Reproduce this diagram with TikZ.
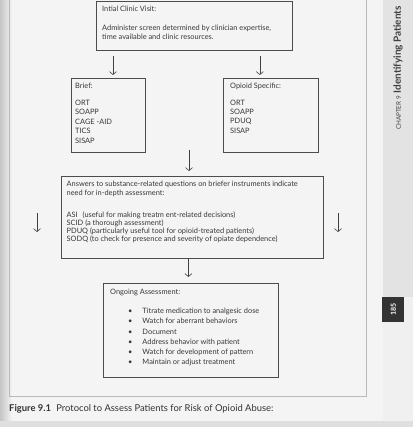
\documentclass[tikz,border=0pt]{standalone}
\usepackage{fontspec}
\setmainfont{Lato}
\usetikzlibrary{arrows.meta, positioning}

\begin{document}
\begin{tikzpicture}[x=1pt,y=-1pt,
 flowbox/.style={rectangle,draw=black!70,line width=0.8pt,anchor=north west,
   inner sep=0pt},
 boxtext/.style={inner sep=0pt,align=left,text=black!78},
 flowarrow/.style={draw=black!75,line width=0.6pt,
   -{Straight Barb[length=3pt,width=7pt]}},
 every node/.style={font=\fontsize{7.4}{9}\selectfont}]
 \useasboundingbox (0,0) rectangle (413,427);
 \clip (0,0) rectangle (413,427);
 % page and margins
 \fill[gray!9] (0,0) rectangle (413,427);
 \shade[left color=gray!45,right color=gray!9] (0,0) rectangle (12,427);
 \fill[gray!22] (383,0) rectangle (413,297);
 \fill[gray!12] (383,297) rectangle (413,421);
 \fill[gray!25] (0,421) rectangle (413,427);
 \draw[gray!55,line width=0.8pt] (9,0) -- (9,396) -- (366,396) -- (366,0);
 % boxes
 \node[flowbox,minimum width=196pt,minimum height=49pt] (visit) at (96,1) {};
 \node[boxtext,below right=5pt and 6pt of visit.north west] (visittext)
   {Intial Clinic Visit:\\[10pt]
    Administer screen determined by clinician expertise,\\
    time available and clinic resources.};
 \node[flowbox,minimum width=74pt,minimum height=74pt] (brief) at (71,78) {};
 \node[boxtext,below right=5pt and 4pt of brief.north west,
   font=\fontsize{7.4}{9.5}\selectfont] (brieftext)
   {Brief:\\[7pt]ORT\\SOAPP\\CAGE -AID\\TICS\\SISAP};
 \node[flowbox,minimum width=95pt,minimum height=74pt] (opioid) at (223,78) {};
 \node[boxtext,below right=5pt and 7pt of opioid.north west,
   font=\fontsize{7.4}{9.3}\selectfont] (opioidtext)
   {Opioid Specific:\\[7.2pt]ORT\\SOAPP\\PDUQ\\SISAP};
 \node[flowbox,minimum width=262pt,minimum height=82pt] (answers) at (61,176) {};
 \node[boxtext,below right=5pt and 5.5pt of answers.north west,
   font=\fontsize{7.4}{8}\selectfont] (answerstext)
   {Answers to substance-related questions on briefer instruments indicate\\[1pt]
    need for in-depth assessment:\\[13.5pt]
    ASI\hspace{3pt} (useful for making treatm ent-related decisions)\\
    SCID (a thorough assessment)\\
    PDUQ (particularly useful tool for opioid-treated patients)\\
    SODQ (to check for presence and severity of opiate dependence)};
 \node[flowbox,minimum width=175pt,minimum height=94pt] (assess) at (103,283) {};
 \node[boxtext,below right=6pt and 7pt of assess.north west,
   font=\fontsize{7.4}{10.2}\selectfont] (assesstext)
   {Ongoing Assessment:\\[8.8pt]
    \hspace*{18pt}\textbullet\hspace{10pt}Titrate medication to analgesic dose\\
    \hspace*{18pt}\textbullet\hspace{10pt}Watch for aberrant behaviors\\
    \hspace*{18pt}\textbullet\hspace{10pt}Document\\
    \hspace*{18pt}\textbullet\hspace{10pt}Address behavior with patient\\
    \hspace*{18pt}\textbullet\hspace{10pt}Watch for development of pattern\\
    \hspace*{18pt}\textbullet\hspace{10pt}Maintain or adjust treatment};
 % arrows
 \coordinate (split) at (189,150);
 \coordinate (leftcue) at (37,213);
 \coordinate (leftcueend) at (37,232);
 \coordinate (rightcue) at (338,213);
 \coordinate (rightcueend) at (338,232);
 \draw[flowarrow,shorten <=5pt,shorten >=3pt] ([xshift=17pt]visit.south west)
   -- ([xshift=17pt]visit.south west |- brief.north);
 \draw[flowarrow,shorten <=5pt,shorten >=3pt] ([xshift=-33pt]visit.south east)
   -- ([xshift=-33pt]visit.south east |- opioid.north);
 \draw[flowarrow,shorten >=5pt] (split) -- (split |- answers.north);
 \draw[flowarrow] (leftcue) -- (leftcueend);
 \draw[flowarrow] (rightcue) -- (rightcueend);
 \draw[flowarrow,shorten >=6pt] ([xshift=-4pt]answers.south)
   -- ([xshift=-4pt]answers.south |- assess.north);
 % caption and page tab
 \node[anchor=base west,inner sep=0pt,text=black!80,
   font=\fontsize{9.4}{11}\selectfont] (caption) at (9,411)
   {\textbf{Figure 9.1}\hspace{3pt} Protocol to Assess Patients for Risk of Opioid Abuse:};
 \node[rotate=90,anchor=west,inner sep=0pt,text=black!75] (chaptertab) at (398,130)
   {{\fontsize{6.3}{7}\selectfont CHAPTER 9}\hspace{3pt}%
    {\fontsize{10}{12}\selectfont\bfseries Identifying Patients}};
 \node[flowbox,draw=none,fill=black!80,minimum width=22pt,minimum height=25pt]
   (pagebox) at (382,297) {};
 \node[rotate=90,text=white,font=\bfseries\fontsize{7}{8}\selectfont]
   (pagenum) at (pagebox.center) {185};
\end{tikzpicture}
\end{document}
